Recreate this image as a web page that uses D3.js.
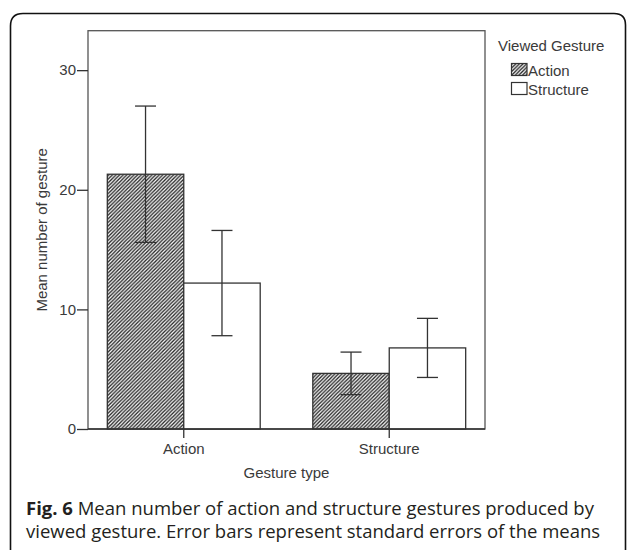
<!DOCTYPE html>
<html>
<head>
<meta charset="utf-8">
<script src="https://cdn.jsdelivr.net/npm/d3@7"></script>
<style>
  html, body { margin: 0; padding: 0; background: #fff; }
  svg { display: block; }
</style>
</head>
<body>
<svg id="chart" width="627" height="550"></svg>
<script>
// ---- data ----
const categories = ["Action", "Structure"];              // Gesture type (x axis)
const seriesNames = ["Action", "Structure"];             // Viewed Gesture (legend)
const actionMeans = [21.3, 4.65];                        // viewed Action gesture
const actionSE = [5.7, 1.78];
const structureMeans = [12.2, 6.78];                     // viewed Structure gesture
const structureSE = [4.4, 2.47];
const yTicks = [0, 10, 20, 30];
const captionBold = "Fig. 6";
const captionLine1 = " Mean number of action and structure gestures produced by";
const captionLine2 = "viewed gesture. Error bars represent standard errors of the means";

const seriesMeans = [actionMeans, structureMeans];
const seriesSE = [actionSE, structureSE];

const svg = d3.select("#chart");
const ink = "#333";
const txt = "#3a3a3a";
const font = "'Liberation Sans', Arial, sans-serif";

// hatch pattern
const defs = svg.append("defs");
const pat = defs.append("pattern")
  .attr("id", "hatch")
  .attr("patternUnits", "userSpaceOnUse")
  .attr("width", 3.6).attr("height", 3.6);
pat.append("rect").attr("width", 3.6).attr("height", 3.6).attr("fill", "#fff");
pat.append("path")
  .attr("d", "M-0.9,0.9 L0.9,-0.9 M0,3.6 L3.6,0 M2.7,4.5 L4.5,2.7")
  .attr("stroke", "#222").attr("stroke-width", 1.3);

// outer figure frame (rounded top corners, open at bottom)
svg.append("path")
  .attr("d", "M10.5,560 L10.5,26 Q10.5,13.5 23,13.5 L614,13.5 Q625.5,13.5 625.5,25 L625.5,560")
  .attr("fill", "none").attr("stroke", "#111").attr("stroke-width", 1.6);

// plot area
const pLeft = 88, pRight = 485, pTop = 30.7, pBottom = 429;

const y = d3.scaleLinear().domain([0, 33.3]).range([pBottom, pTop]);
const x0 = d3.scaleBand().domain(categories).range([pLeft, pRight])
  .paddingInner(0.256).paddingOuter(0.094);
const x1 = d3.scaleBand().domain(seriesNames).range([0, x0.bandwidth()]).padding(0);

// plot frame
svg.append("rect")
  .attr("x", pLeft).attr("y", pTop)
  .attr("width", pRight - pLeft).attr("height", pBottom - pTop)
  .attr("fill", "none").attr("stroke", "#555").attr("stroke-width", 1.3);

// bars
const groups = svg.append("g").selectAll("g")
  .data(categories).join("g")
  .attr("transform", d => `translate(${x0(d)},0)`);

groups.each(function(cat, ci) {
  const g = d3.select(this);
  seriesNames.forEach((s, si) => {
    const m = seriesMeans[si][ci];
    const se = seriesSE[si][ci];
    g.append("rect")
      .attr("x", x1(s)).attr("y", y(m))
      .attr("width", x1.bandwidth()).attr("height", y(0) - y(m))
      .attr("fill", si === 0 ? "url(#hatch)" : "#fff")
      .attr("stroke", ink).attr("stroke-width", 1.3);
    const cx = x1(s) + x1.bandwidth() / 2;
    const eb = g.append("g").attr("stroke", ink).attr("stroke-width", 1.3);
    eb.append("line").attr("x1", cx).attr("x2", cx).attr("y1", y(m + se)).attr("y2", y(m - se));
    eb.append("line").attr("x1", cx - 10.5).attr("x2", cx + 10.5).attr("y1", y(m + se)).attr("y2", y(m + se));
    eb.append("line").attr("x1", cx - 10.5).attr("x2", cx + 10.5).attr("y1", y(m - se)).attr("y2", y(m - se));
  });
});

// y axis
const yAxis = svg.append("g")
  .attr("transform", `translate(${pLeft},0)`)
  .call(d3.axisLeft(y).tickValues(yTicks).tickFormat(d3.format("d")).tickSize(11).tickPadding(1));
yAxis.select(".domain").remove();
yAxis.selectAll("line").attr("stroke", ink).attr("stroke-width", 1.3);
yAxis.selectAll("text").attr("fill", txt).attr("font-family", font).attr("font-size", 15);

// x axis
const xAxis = svg.append("g")
  .attr("transform", `translate(0,${pBottom})`)
  .call(d3.axisBottom(x0).tickSize(9).tickPadding(5));
xAxis.select(".domain").remove();
xAxis.selectAll("line").attr("stroke", ink).attr("stroke-width", 1.3);
xAxis.selectAll("text").attr("fill", txt).attr("font-family", font).attr("font-size", 15);

// baseline over bars
svg.append("line")
  .attr("x1", pLeft).attr("x2", pRight).attr("y1", pBottom).attr("y2", pBottom)
  .attr("stroke", ink).attr("stroke-width", 1.3);

// axis titles
svg.append("text")
  .attr("x", (pLeft + pRight) / 2).attr("y", 478)
  .attr("text-anchor", "middle")
  .attr("font-family", font).attr("font-size", 15).attr("fill", txt)
  .text("Gesture type");

svg.append("text")
  .attr("transform", `translate(47,${(pTop + pBottom) / 2}) rotate(-90)`)
  .attr("text-anchor", "middle")
  .attr("font-family", font).attr("font-size", 15).attr("fill", txt)
  .text("Mean number of gesture");

// legend
const lg = svg.append("g");
lg.append("text")
  .attr("x", 498).attr("y", 51)
  .attr("font-family", font).attr("font-size", 15).attr("fill", txt)
  .text("Viewed Gesture");
seriesNames.forEach((s, i) => {
  const yy = 63.5 + i * 19;
  lg.append("rect")
    .attr("x", 511.5).attr("y", yy).attr("width", 15.5).attr("height", 12)
    .attr("fill", i === 0 ? "url(#hatch)" : "#fff")
    .attr("stroke", ink).attr("stroke-width", 1.2);
  lg.append("text")
    .attr("x", 528).attr("y", yy + 12.5)
    .attr("font-family", font).attr("font-size", 15).attr("fill", txt)
    .text(s);
});

// caption
const cap = svg.append("text")
  .attr("font-family", "'Open Sans', 'Noto Sans', sans-serif")
  .attr("font-size", 18.5).attr("fill", "#231f20");
const l1 = cap.append("tspan").attr("x", 26).attr("y", 515);
l1.append("tspan").attr("font-weight", "bold").text(captionBold);
l1.append("tspan").text(captionLine1);
cap.append("tspan").attr("x", 26).attr("y", 538).text(captionLine2);
</script>
</body>
</html>
